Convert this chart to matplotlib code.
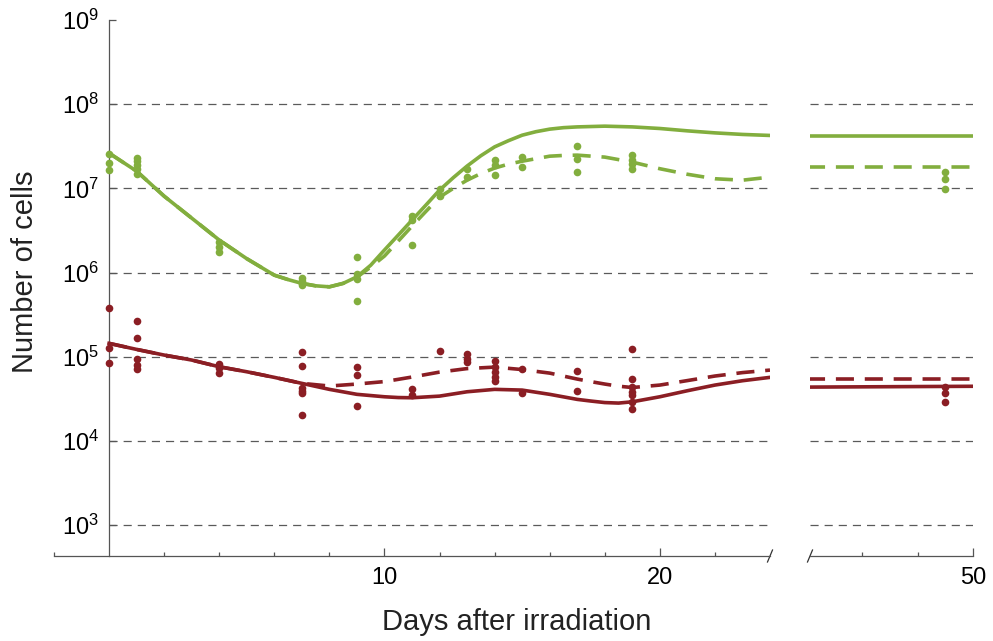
import matplotlib
matplotlib.use("Agg")
import matplotlib.pyplot as plt

plt.rcParams['font.family'] = ['Liberation Sans', 'DejaVu Sans']
plt.rcParams['mathtext.fontset'] = 'custom'
plt.rcParams['mathtext.rm'] = 'Liberation Sans'
plt.rcParams['mathtext.it'] = 'Liberation Sans:italic'

GREEN = '#82ae3e'
RED = '#8b1e24'
GRID = '#5a5a5a'
AXIS = '#555555'

# model curves over the first 24 days (finer sampling around the turning points)
green_days = [0, 1, 2, 3, 4, 5, 6, 6.5, 7, 7.5, 8, 8.5, 9, 9.5, 10, 10.5, 11, 11.5,
              12, 12.5, 13, 13.5, 14, 14.5, 15, 15.5, 16, 16.5, 17, 18, 19, 20, 21,
              22, 23, 24]
green_fit = [2.62e7, 1.60e7, 8.07e6, 4.43e6, 2.43e6, 1.46e6, 9.3e5, 8.24e5, 7.43e5,
             6.95e5, 6.76e5, 7.43e5, 8.89e5, 1.22e6, 1.85e6, 2.78e6, 4.19e6, 6.3e6,
             9.52e6, 1.34e7, 1.84e7, 2.44e7, 3.11e7, 3.68e7, 4.28e7, 4.71e7, 5.05e7,
             5.26e7, 5.37e7, 5.48e7, 5.37e7, 5.14e7, 4.82e7, 4.56e7, 4.37e7, 4.25e7]
green_fit_dashed = [2.62e7, 1.60e7, 8.07e6, 4.43e6, 2.43e6, 1.46e6, 9.3e5, 8.24e5, 7.43e5,
                    6.95e5, 6.76e5, 7.43e5, 8.8e5, 1.16e6, 1.57e6, 2.36e6, 3.56e6, 5.3e6,
                    7.86e6, 1.0e7, 1.25e7, 1.50e7, 1.74e7, 1.94e7, 2.10e7, 2.25e7, 2.41e7,
                    2.46e7, 2.48e7, 2.35e7, 2.05e7, 1.71e7, 1.47e7, 1.30e7, 1.25e7, 1.36e7]

red_days = [0, 1, 2, 3, 4, 5, 6, 7, 8, 9, 10, 10.5, 11, 12, 13, 14, 15, 16, 17,
            17.5, 18, 18.5, 19, 20, 21, 22, 23, 24]
red_fit = [1.44e5, 1.22e5, 1.045e5, 9.12e4, 7.59e4, 6.62e4, 5.68e4, 4.82e4, 4.09e4,
           3.57e4, 3.34e4, 3.27e4, 3.25e4, 3.40e4, 3.83e4, 4.09e4, 4.01e4, 3.57e4,
           3.11e4, 2.97e4, 2.85e4, 2.81e4, 2.91e4, 3.34e4, 3.94e4, 4.60e4, 5.18e4, 5.68e4]
red_fit_dashed = [1.44e5, 1.22e5, 1.045e5, 9.12e4, 7.59e4, 6.62e4, 5.68e4, 4.82e4, 4.48e4,
                  4.73e4, 5.06e4, 5.38e4, 5.73e4, 6.56e4, 7.22e4, 7.52e4, 7.03e4, 6.38e4,
                  5.42e4, 5.05e4, 4.73e4, 4.46e4, 4.30e4, 4.60e4, 5.20e4, 5.89e4, 6.47e4, 6.93e4]

# long-term part of the curves
late_days = [44, 47, 50]
green_late = [4.21e7, 4.21e7, 4.21e7]
green_late_dashed = [1.80e7, 1.80e7, 1.80e7]
red_late = [4.35e4, 4.40e4, 4.45e4]
red_late_dashed = [5.37e4, 5.37e4, 5.37e4]

# measurements
green_pt_days = [0, 0, 0, 1, 1, 1, 1, 1, 4, 4, 4, 7, 7, 7, 9, 9, 9, 9, 11, 11, 11,
                 12, 12, 13, 13, 14, 14, 14, 15, 15, 17, 17, 17, 19, 19, 19, 19,
                 49, 49, 49]
green_pt_cells = [2.55e7, 2.0e7, 1.65e7, 2.3e7, 2.1e7, 1.9e7, 1.7e7, 1.5e7,
                  2.3e6, 2.0e6, 1.75e6, 8.7e5, 8.0e5, 7.2e5, 1.53e6, 9.5e5, 8.3e5, 4.6e5,
                  4.7e6, 4.2e6, 2.13e6, 9.7e6, 8.1e6, 1.72e7, 1.37e7, 2.16e7, 1.89e7, 1.46e7,
                  2.37e7, 1.8e7, 3.17e7, 2.26e7, 1.57e7, 2.5e7, 2.2e7, 1.95e7, 1.7e7,
                  1.57e7, 1.28e7, 9.8e6]
red_pt_days = [0, 0, 0, 1, 1, 1, 1, 1, 4, 4, 4, 7, 7, 7, 7, 7, 7, 9, 9, 9, 11, 11,
               12, 13, 13, 13, 14, 14, 14, 14, 14, 15, 15, 17, 17,
               19, 19, 19, 19, 19, 19, 19, 49, 49, 49]
red_pt_cells = [3.81e5, 1.28e5, 8.5e4, 2.67e5, 1.65e5, 9.5e4, 7.9e4, 7.1e4,
                8.1e4, 7.3e4, 6.4e4, 1.14e5, 7.8e4, 4.2e4, 3.9e4, 3.67e4, 2.02e4,
                7.5e4, 6.0e4, 2.6e4, 4.1e4, 3.5e4, 1.16e5, 1.09e5, 9.5e4, 8.7e4,
                8.9e4, 7.6e4, 6.6e4, 5.8e4, 5.2e4, 7.1e4, 3.7e4, 6.75e4, 3.9e4,
                1.22e5, 5.4e4, 4.4e4, 3.8e4, 3.5e4, 2.9e4, 2.4e4, 4.4e4, 3.7e4, 2.9e4]

ytick_vals = [1e3, 1e4, 1e5, 1e6, 1e7, 1e8, 1e9]
ytick_labels = [r'$10^{3}$', r'$10^{4}$', r'$10^{5}$', r'$10^{6}$',
                r'$10^{7}$', r'$10^{8}$', r'$10^{9}$']
grid_vals = [1e3, 1e4, 1e5, 1e6, 1e7, 1e8]

W, H = 993, 641
fig = plt.figure(figsize=(W / 100, H / 100), dpi=100)
ax1 = fig.add_axes([54 / W, 85 / H, 716 / W, 536 / H])
ax2 = fig.add_axes([810 / W, 85 / H, 163 / W, 536 / H], sharey=ax1)

ax1.set_yscale('log')
ax1.set_ylim(10 ** 2.632, 1e9)
ax1.set_xlim(-2, 24)
ax2.set_xlim(44.1, 50)

LW = 2.6
dash_kw = dict(lw=LW, dashes=(5.0, 3.0))
grid_kw = dict(colors=GRID, lw=0.9, linestyles=(0, (6.5, 4.8)), zorder=1)

ax1.hlines(grid_vals, 0, 24, **grid_kw)
ax2.hlines(grid_vals, 44.1, 50, **grid_kw)

ax1.plot(green_days, green_fit, color=GREEN, lw=LW, zorder=3)
ax1.plot(green_days, green_fit_dashed, color=GREEN, zorder=3, **dash_kw)
ax1.plot(red_days, red_fit, color=RED, lw=LW, zorder=3)
ax1.plot(red_days, red_fit_dashed, color=RED, zorder=3, **dash_kw)
ax2.plot(late_days, green_late, color=GREEN, lw=LW, zorder=3)
ax2.plot(late_days, green_late_dashed, color=GREEN, zorder=3, **dash_kw)
ax2.plot(late_days, red_late, color=RED, lw=LW, zorder=3)
ax2.plot(late_days, red_late_dashed, color=RED, zorder=3, **dash_kw)

for ax in (ax1, ax2):
    ax.plot(green_pt_days, green_pt_cells, 'o', color=GREEN, ms=5.5, mec='none', zorder=4)
    ax.plot(red_pt_days, red_pt_cells, 'o', color=RED, ms=5.5, mec='none', zorder=4)
    for side in ('top', 'right'):
        ax.spines[side].set_visible(False)
    ax.spines['bottom'].set_color(AXIS)
    ax.spines['bottom'].set_linewidth(0.9)
    ax.tick_params(axis='x', which='both', direction='in', colors=AXIS,
                   labelcolor='black', labelsize=17, pad=8)
    ax.tick_params(axis='x', which='major', length=5.5, width=0.9)
    ax.tick_params(axis='x', which='minor', length=3, width=0.9)

ax1.spines['left'].set_position(('data', 0))
ax1.spines['left'].set_color(AXIS)
ax1.spines['left'].set_linewidth(0.9)
ax1.set_yticks(ytick_vals)
ax1.set_yticklabels(ytick_labels)
ax1.yaxis.set_minor_locator(matplotlib.ticker.NullLocator())
ax1.tick_params(axis='y', direction='in', length=5, width=0.9, colors=AXIS,
                labelcolor='black', labelsize=17, pad=7)

ax1.set_xticks([10, 20])
ax1.set_xticks([-2, 2, 4, 6, 8, 12, 14, 16, 18, 22], minor=True)
ax2.set_xticks([50])
ax2.set_xticks([46, 48], minor=True)
ax2.spines['left'].set_visible(False)
ax2.tick_params(axis='y', left=False, labelleft=False)

# slanted marks where the axis is broken
dy = 6 / 536
ax1.plot([1 - 2.5 / 716, 1 + 2.5 / 716], [-dy, dy], transform=ax1.transAxes,
         color='#333333', lw=0.9, clip_on=False)
ax2.plot([-2.5 / 163, 2.5 / 163], [-dy, dy], transform=ax2.transAxes,
         color='#333333', lw=0.9, clip_on=False)

fig.text(517 / W, 1 - 622 / H, 'Days after irradiation', fontsize=21,
         ha='center', va='center', color='#222222')
fig.text(25 / W, 1 - 272 / H, 'Number of cells', fontsize=21, rotation=90,
         ha='center', va='center', color='#222222')

fig.savefig('out.png', dpi=100)
